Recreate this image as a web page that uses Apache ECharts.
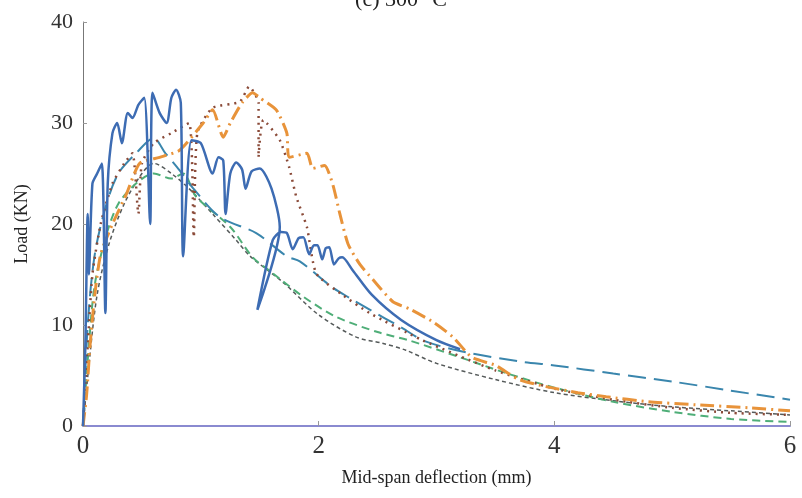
<!DOCTYPE html>
<html>
<head>
<meta charset="utf-8">
<script src="https://cdn.jsdelivr.net/npm/echarts@6/dist/echarts.min.js"></script>
<style>
html, body { margin: 0; padding: 0; background: #fff; }
#main { width: 802px; height: 498px; }
</style>
</head>
<body>
<div id="main"></div>
<script>
// load-deflection curves, [deflection mm, load kN]
var blueSolid = [[0,0],[0.02,8],[0.04,21],[0.05,15],[0.08,24],[0.12,25],[0.16,26],[0.19,11.2],[0.21,24],[0.25,29],
  [0.29,30],[0.33,28],[0.38,31],[0.42,30.5],[0.47,31.8],[0.52,32.5],[0.57,20],[0.59,33],[0.65,31],[0.71,30],
  [0.75,32.5],[0.79,33.3],[0.83,32],[0.85,16.8],[0.92,28.3],[1.0,28],[1.1,25],[1.15,26.6],[1.19,26.3],[1.21,21],
  [1.25,25],[1.3,26.1],[1.35,25.4],[1.38,23.5],[1.43,25.2],[1.5,25.5],[1.6,23.5],[1.67,19.7],[1.48,11.5],
  [1.61,18.4],[1.68,19.2],[1.73,19.1],[1.78,17.5],[1.83,18.6],[1.87,18.7],[1.92,17],[1.96,17.9],[1.99,17.9],
  [2.03,16.5],[2.06,17.6],[2.09,17.7],[2.13,16],[2.17,16.6],[2.2,16.7],[2.29,15.4],[2.45,13],
  [2.7,10.5],[3.0,8.5],[3.2,7.6]];
var orangeDashDot = [[0,0],[0.03,3],[0.06,8],[0.1,13],[0.15,17],[0.25,20],[0.37,23],[0.48,26],[0.65,26.6],
  [0.82,27.3],[1.02,30],[1.1,31.3],[1.19,28.6],[1.25,30],[1.35,32],[1.44,33],[1.5,32.5],[1.64,31.3],[1.73,29],
  [1.75,26.6],[1.9,27],[1.95,25.5],[2.05,25.8],[2.12,23.9],[2.18,21],[2.25,18],[2.35,16],[2.46,14.5],
  [2.63,12.3],[2.77,11.6],[2.97,10.3],[3.14,8.8],[3.3,6.8],[3.5,6.0],[3.7,4.6],[3.93,3.9],[4.2,3.3],
  [4.44,2.9],[4.8,2.4],[5.2,2.1],[5.65,1.8],[6,1.5]];
var brownDotted = [[0,0],[0.03,6],[0.08,15],[0.15,20],[0.25,24],[0.35,26],[0.42,27],[0.47,21],[0.5,26],
  [0.6,28],[0.75,29],[0.9,30],[0.94,18.7],[0.97,29],[1.1,31.5],[1.33,32.1],[1.41,33.6],[1.49,32],[1.49,26.6],
  [1.53,30.3],[1.67,28.3],[1.75,25.6],[1.81,22.7],[1.9,19.7],[1.98,15.1],[2.2,13],[2.43,11.2],[2.88,8.5],
  [3.5,5.5],[4,3.7],[4.5,2.6],[5,1.8],[5.5,1.3],[6,1.1]];
var tealLongDash = [[0,0],[0.04,10],[0.1,17],[0.2,22],[0.3,25],[0.45,27],[0.6,28.5],[0.7,27],[0.82,25.3],
  [0.93,23.6],[1.16,20.7],[1.47,19.1],[1.73,16.8],[1.84,16.3],[2.12,13.7],[2.26,12.7],[2.54,10.8],[2.71,9.7],
  [2.9,8.4],[3.25,7.3],[3.7,6.4],[4,6.0],[4.5,5.2],[5,4.4],[5.5,3.5],[6,2.6]];
var greenDashed = [[0,0],[0.05,8],[0.1,14],[0.2,19],[0.3,22],[0.45,24],[0.6,25],[0.75,24.5],[0.85,25],
  [0.96,22.7],[1.25,19.7],[1.44,16.7],[1.58,15.4],[1.87,12.8],[2.15,10.8],[2.5,9.3],[2.76,8.5],[3.2,6.8],
  [3.6,5.2],[4,3.8],[4.5,2.4],[5,1.4],[5.5,0.7],[6,0.4]];
var greyDashed = [[0,0],[0.05,6],[0.12,13],[0.22,18],[0.35,22],[0.5,25],[0.6,26],[0.75,25],[0.9,23.5],
  [1.1,21],[1.3,18.4],[1.42,16.8],[1.7,14.2],[2.0,11],[2.32,8.8],[2.54,8.2],[2.74,7.5],[3.0,6.2],
  [3.5,4.6],[4,3.3],[4.5,2.5],[5,1.9],[5.5,1.5],[6,1.1]];

var xTicks = [0, 2, 4, 6];
var yTicks = [0, 10, 20, 30, 40];

var myChart = echarts.init(document.getElementById('main'));

function curve(name, data, color, width, type, smooth) {
    return {
        name: name,
        type: 'line',
        data: data,
        showSymbol: false,
        animation: false,
        smooth: smooth || false,
        lineStyle: { color: color, width: width, type: type }
    };
}

var option = {
    backgroundColor: '#fff',
    title: {
        text: '(c) 300 °C',
        left: 'center',
        top: -16,
        textStyle: { fontFamily: 'Liberation Serif', fontSize: 22, fontWeight: 'normal', color: '#222' }
    },
    grid: { left: 83, right: 12, top: 22, bottom: 72 },
    xAxis: {
        type: 'value',
        min: xTicks[0],
        max: xTicks[xTicks.length - 1],
        interval: 2,
        name: 'Mid-span deflection (mm)',
        nameLocation: 'middle',
        nameGap: 43,
        nameTextStyle: { fontFamily: 'Liberation Serif', fontSize: 18, color: '#222' },
        axisLine: { lineStyle: { color: '#8a8ad0', width: 2 } },
        axisTick: { inside: true, length: 5, lineStyle: { color: '#999' } },
        axisLabel: { fontFamily: 'Liberation Serif', fontSize: 25, color: '#333', margin: 8 },
        splitLine: { show: false }
    },
    yAxis: {
        type: 'value',
        min: yTicks[0],
        max: yTicks[yTicks.length - 1],
        interval: 10,
        name: 'Load (KN)',
        nameLocation: 'middle',
        nameGap: 52,
        nameTextStyle: { fontFamily: 'Liberation Serif', fontSize: 18, color: '#222' },
        axisLine: { show: true, lineStyle: { color: '#777', width: 1 } },
        axisTick: { show: true, inside: true, length: 4, lineStyle: { color: '#999' } },
        axisLabel: { fontFamily: 'Liberation Serif', fontSize: 22, color: '#333', margin: 10 },
        splitLine: { show: false }
    },
    series: [
        curve('S6', greyDashed, '#555a5a', 1.5, [4, 3], 0.3),
        curve('S5', greenDashed, '#4fae78', 2, [8, 5], 0.3),
        curve('S4', tealLongDash, '#3a86ad', 2, [18, 8], 0.3),
        curve('S3', brownDotted, '#8a4a38', 2.5, [2, 5], 0.2),
        curve('S2', orangeDashDot, '#e8933a', 3, [14, 5, 2, 5], 0.2),
        curve('S1', blueSolid, '#3d6cb3', 2.5, 'solid', 0.25)
    ]
};
myChart.setOption(option);
</script>
</body>
</html>
